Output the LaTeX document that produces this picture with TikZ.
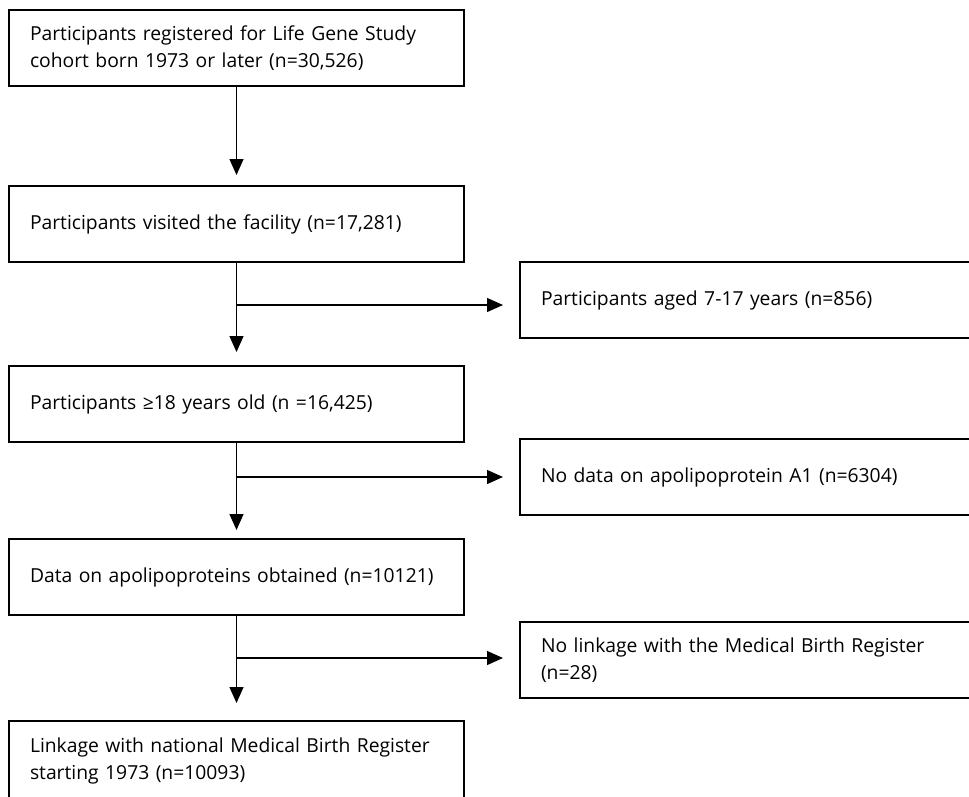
\documentclass[tikz,border=0pt]{standalone}
\usepackage{fontspec}
\setmainfont{Open Sans}
\usetikzlibrary{arrows.meta}
\begin{document}
\begin{tikzpicture}[x=1pt,y=-1pt,
  box/.style={draw, line width=2.8pt, outer sep=0pt, minimum height=76pt, align=left,
    inner xsep=21pt, inner ysep=0pt, anchor=north west,
    font=\fontsize{19.3}{27}\selectfont},
  mainbox/.style={box, text width=413pt},
  sidebox/.style={box, text width=428pt},
  arr/.style={line width=1.3pt, -{Triangle[width=14pt,length=16pt]}}]
\useasboundingbox (0,0) rectangle (969,796);
\clip (0,0) rectangle (969,796);
\node[mainbox] (b1) at (9,10) {Participants registered for Life Gene Study\\cohort born 1973 or later (n=30,526)};
\node[mainbox] (b2) at (9,186) {Participants visited the facility (n=17,281)};
\node[mainbox] (b3) at (9,366) {Participants ≥18 years old (n =16,425)};
\node[mainbox] (b4) at (9,539) {Data on apolipoproteins obtained (n=10121)};
\node[mainbox, minimum height=80pt] (b5) at (9,721) {Linkage with national Medical Birth Register\\starting 1973 (n=10093)};
\node[sidebox] (s1) at (520,262) {Participants aged 7-17 years (n=856)};
\node[sidebox] (s2) at (520,439) {No data on apolipoprotein A1 (n=6304)};
\node[sidebox] (s3) at (520,622) {No linkage with the Medical Birth Register\\(n=28)};
\draw[arr, shorten >=11pt] (b1.south) -- (b2.north);
\draw[arr, shorten >=14pt] (b2.south) -- (b3.north);
\draw[arr, shorten >=9pt] (b3.south) -- (b4.north);
\draw[arr, shorten >=18pt] (b4.south) -- (b5.north);
\draw[arr, shorten >=17pt] ([yshift=-5pt]b2.south |- s1.west) -- ([yshift=-5pt]s1.west);
\draw[arr, shorten >=17pt] (b3.south |- s2.west) -- (s2.west);
\draw[arr, shorten >=17pt] ([yshift=2pt]b4.south |- s3.west) -- ([yshift=2pt]s3.west);
\end{tikzpicture}
\end{document}
